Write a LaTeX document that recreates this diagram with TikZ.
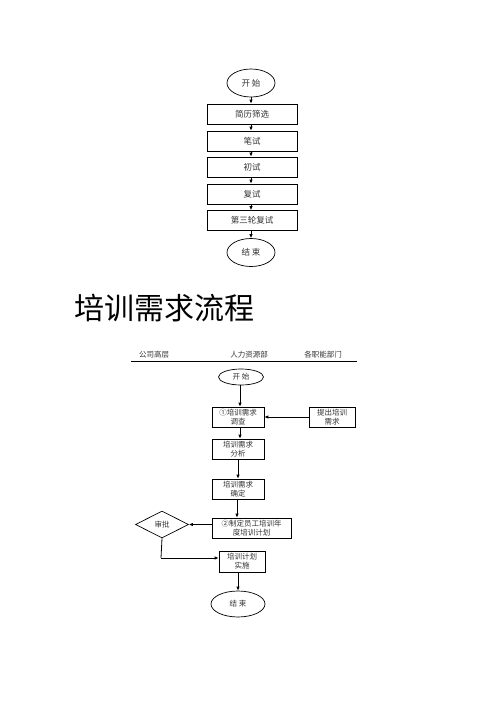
\documentclass[tikz,border=0pt]{standalone}
\usepackage{fontspec}
\setmainfont{Liberation Serif}
\newfontfamily\cjk{Noto Sans CJK SC}
\usetikzlibrary{shapes.geometric,arrows.meta}
\tikzset{
  box/.style={draw=black,line width=0.7pt,minimum width=90pt,minimum height=20pt,inner sep=0pt,font=\cjk\fontsize{8.5}{10}\selectfont,text=black!80,align=center},
  oval/.style={draw=black,line width=0.7pt,ellipse,minimum width=48pt,minimum height=28pt,inner sep=0pt,font=\cjk\fontsize{8.5}{10}\selectfont,text=black!80},
  sbox/.style={draw=black,line width=0.7pt,minimum height=20pt,inner sep=0pt,font=\cjk\fontsize{7.5}{8.8}\selectfont,text=black!80,align=center},
  soval/.style={draw=black,line width=0.7pt,ellipse,inner sep=0pt,font=\cjk\fontsize{7.5}{9}\selectfont,text=black!80},
  hdr/.style={font=\cjk\fontsize{7.5}{9}\selectfont,text=black!80},
  arr/.style={draw=black,line width=0.8pt,-{Latex[length=4pt,width=3.5pt]}},
  ln/.style={draw=black,line width=0.8pt}
}
\begin{document}
\begin{tikzpicture}[x=1pt,y=-1pt]
\useasboundingbox (0,0) rectangle (500,707);
\fill[white] (0,0) rectangle (500,707);
% top flow
\node[oval] (s1) at (251,83) {开 始};
\node[box] (b1) at (252,114) {简历筛选};
\node[box] (b2) at (252,141) {笔试};
\node[box] (b3) at (252,167) {初试};
\node[box] (b4) at (252,194) {复试};
\node[box] (b5) at (252,220.5) {第三轮复试};
\node[oval] (e1) at (251,252.5) {结 束};
\draw[arr] (s1.south) -- (s1.south |- b1.north);
\draw[arr] (b1.south -| s1.south) -- (s1.south |- b2.north);
\draw[arr] (b2.south -| s1.south) -- (s1.south |- b3.north);
\draw[arr] (b3.south -| s1.south) -- (s1.south |- b4.north);
\draw[arr] (b4.south -| s1.south) -- (s1.south |- b5.north);
\draw[arr] (b5.south -| s1.south) -- (e1.north);
% title
\node[anchor=west,font=\cjk\fontsize{30}{34}\selectfont,inner sep=0pt] (title) at (74,308) {培训需求流程};
% header
\node[hdr] (h1) at (154,355) {公司高层};
\node[hdr] (h2) at (249,355) {人力资源部};
\node[hdr] (h3) at (323,355) {各职能部门};
\coordinate (hl) at (131,361);
\coordinate (hr) at (357,361);
\draw[black,line width=0.7pt] (hl) -- (hr);
% second flow
\node[soval,minimum width=45pt,minimum height=16pt] (s2) at (241,377) {开 始};
\node[sbox,minimum width=52pt] (c1) at (238,417) {①培训需求\\调查};
\node[sbox,minimum width=46pt] (d1) at (332,417) {提出培训\\需求};
\node[sbox,minimum width=52pt] (c2) at (238,449) {培训需求\\分析};
\node[sbox,minimum width=52pt] (c3) at (238,489) {培训需求\\确定};
\node[sbox,minimum width=79pt] (c4) at (251.5,528) {②制定员工培训年\\度培训计划};
\node[draw=black,line width=0.7pt,diamond,aspect=2,minimum width=53pt,minimum height=27pt,inner sep=0pt,font=\cjk\fontsize{7.5}{9}\selectfont,text=black!80] (dm) at (162,524.5) {审批};
\node[sbox,minimum width=46pt,minimum height=21pt] (c5) at (242,561.5) {培训计划\\实施};
\node[soval,minimum width=54pt,minimum height=26pt] (e2) at (238,604) {结 束};
\coordinate (s2b) at (240,384.5);
\draw[arr] (s2b) -- (s2b |- c1.north);
\draw[arr] (d1.west) -- (c1.east);
\draw[arr] ([xshift=2pt]c1.south) -- ([xshift=2pt]c1.south |- c2.north);
\draw[arr] ([xshift=0pt]c2.south) -- (c2.south |- c3.north);
\draw[arr] ([xshift=-1pt]c3.south) -- ([xshift=-1pt]c3.south |- c4.north);
\draw[arr] (c4.west |- dm.east) -- (dm.east);
\coordinate (turn) at (161,558);
\draw[ln] (dm.south) -- (turn);
\draw[arr] (turn) -- (turn -| c5.west);
\draw[arr] ([xshift=-4pt]c5.south) -- (e2.north);
\end{tikzpicture}
\end{document}
